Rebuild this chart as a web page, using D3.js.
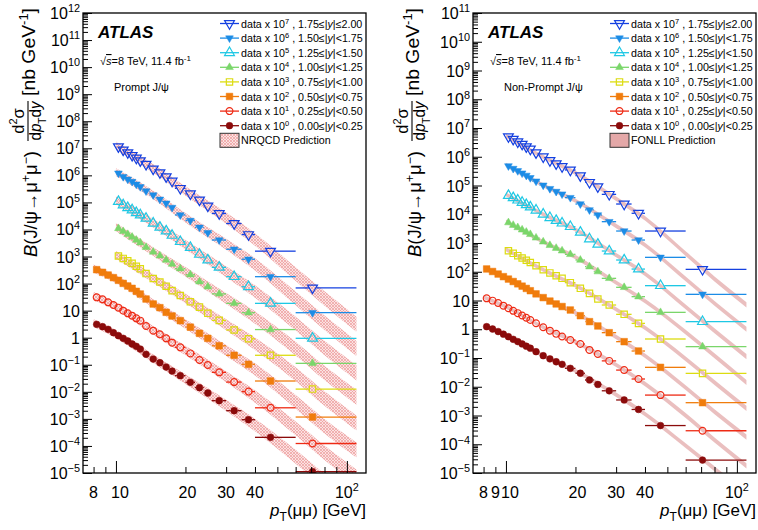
<!DOCTYPE html>
<meta charset="utf-8">
<style>
body { margin: 0; background: #fff; }
svg { font-family: "Liberation Sans", Arial, Helvetica, sans-serif; }
</style>
<body>
<script src="https://d3js.org/d3.v7.min.js"></script>
<script>

// pT bins [GeV] and marker positions (mean pT of bin)
var binLo = [8, 8.5, 9, 9.5, 10, 10.5, 11, 11.5, 12, 12.5, 13, 14, 15, 16, 17, 18, 20, 22, 24, 26, 30, 35, 40, 60];
var binHi = [8.5, 9, 9.5, 10, 10.5, 11, 11.5, 12, 12.5, 13, 14, 15, 16, 17, 18, 20, 22, 24, 26, 30, 35, 40, 60, 110];
var binPt = [8.25, 8.75, 9.25, 9.75, 10.25, 10.75, 11.25, 11.75, 12.25, 12.75, 13.5, 14.5, 15.5, 16.5, 17.5, 19, 21, 23, 25, 28, 32.5, 37.5, 46.7, 71];

// rapidity slices, index 0 = central
var yEdges = ["0.00", "0.25", "0.50", "0.75", "1.00", "1.25", "1.50", "1.75", "2.00"];
var scalePow = [0, 1, 2, 3, 4, 5, 6, 7];
var firstBin = [0, 0, 0, 4, 4, 4, 4, 4];

// prompt J/psi, nb/GeV (unscaled)
var promptY0 = [3.12, 2.56, 2.04, 1.53, 1.19, 0.95, 0.755, 0.585, 0.48, 0.382, 0.243, 0.163, 0.119, 0.0826, 0.0587, 0.0395, 0.0224, 0.0142, 0.00904, 0.00471, 0.00201, 0.000933, 0.000208, 1.12e-5];
var promptY1 = [3.1, 2.62, 2.03, 1.62, 1.29, 0.998, 0.796, 0.652, 0.52, 0.427, 0.270, 0.182, 0.133, 0.0948, 0.0655, 0.044, 0.0263, 0.0150, 0.0098, 0.00525, 0.00229, 0.00102, 0.000257, 1.23e-5];
var promptY2 = [3.27, 2.61, 2.07, 1.66, 1.32, 1.02, 0.815, 0.668, 0.518, 0.412, 0.269, 0.176, 0.129, 0.0867, 0.0634, 0.0427, 0.0245, 0.0145, 0.00948, 0.00501, 0.00224, 0.00104, 0.000251, 1.17e-5];
var promptY3 = [1.047, 0.851, 0.692, 0.562, 0.437, 0.355, 0.234, 0.155, 0.115, 0.0794, 0.055, 0.0363, 0.0214, 0.0135, 0.00794, 0.00437, 0.00193, 0.000912, 0.000224, 1.26e-5];
var promptY4 = [1.096, 0.851, 0.661, 0.525, 0.407, 0.324, 0.219, 0.148, 0.107, 0.0741, 0.0525, 0.0355, 0.0214, 0.0117, 0.00759, 0.00417, 0.00186, 0.000841, 0.0002, 1.13e-5];
var promptY5 = [1.072, 0.804, 0.638, 0.525, 0.417, 0.343, 0.257, 0.170, 0.120, 0.0871, 0.0603, 0.0355, 0.0214, 0.0120, 0.00741, 0.00398, 0.0018, 0.000767, 0.000186, 9.5e-6];
var promptY6 = [1.202, 0.891, 0.716, 0.589, 0.468, 0.380, 0.263, 0.188, 0.130, 0.0933, 0.0646, 0.0343, 0.0214, 0.0120, 0.00759, 0.00407, 0.00186, 0.000794, 0.00018, 8.4e-6];
var promptY7 = [1.148, 0.871, 0.692, 0.550, 0.437, 0.347, 0.257, 0.172, 0.126, 0.0891, 0.0617, 0.0331, 0.0209, 0.0123, 0.00741, 0.00389, 0.00166, 0.000646, 0.000158, 6.9e-6];

// non-prompt J/psi, nb/GeV (unscaled)
var nonPromptY0 = [1.23, 1.02, 0.832, 0.676, 0.550, 0.447, 0.372, 0.309, 0.257, 0.219, 0.166, 0.120, 0.0933, 0.0741, 0.0603, 0.0437, 0.0295, 0.0172, 0.0120, 0.00724, 0.00347, 0.00162, 0.000447, 2.82e-5];
var nonPromptY1 = [1.19, 0.989, 0.813, 0.661, 0.537, 0.437, 0.363, 0.302, 0.251, 0.209, 0.162, 0.117, 0.0891, 0.0692, 0.0562, 0.0423, 0.0307, 0.0191, 0.0138, 0.00794, 0.0038, 0.00186, 0.000513, 2.95e-5];
var nonPromptY2 = [1.25, 1.02, 0.832, 0.676, 0.556, 0.457, 0.380, 0.316, 0.263, 0.219, 0.170, 0.126, 0.0955, 0.0759, 0.0617, 0.0467, 0.0296, 0.0184, 0.0130, 0.0076, 0.0037, 0.00175, 0.000473, 2.79e-5];
var nonPromptY3 = [0.537, 0.437, 0.363, 0.302, 0.251, 0.209, 0.162, 0.117, 0.0912, 0.0724, 0.0589, 0.0417, 0.0265, 0.0177, 0.0113, 0.00697, 0.0033, 0.0016, 0.000458, 2.92e-5];
var nonPromptY4 = [0.513, 0.417, 0.347, 0.288, 0.240, 0.200, 0.151, 0.110, 0.0832, 0.0661, 0.0537, 0.0403, 0.0256, 0.015, 0.0101, 0.0059, 0.00287, 0.00136, 0.000387, 2.48e-5];
var nonPromptY5 = [0.447, 0.372, 0.309, 0.257, 0.214, 0.178, 0.138, 0.100, 0.0759, 0.0603, 0.049, 0.037, 0.0235, 0.0138, 0.00897, 0.00526, 0.00256, 0.00124, 0.000328, 1.84e-5];
var nonPromptY6 = [0.479, 0.389, 0.324, 0.269, 0.224, 0.186, 0.141, 0.102, 0.0776, 0.0617, 0.0501, 0.0378, 0.0227, 0.0141, 0.00942, 0.00552, 0.00261, 0.00127, 0.000317, 1.64e-5];
var nonPromptY7 = [0.501, 0.407, 0.331, 0.275, 0.224, 0.186, 0.138, 0.100, 0.0741, 0.0575, 0.0457, 0.0346, 0.022, 0.0129, 0.0091, 0.00492, 0.00227, 0.00108, 0.000261, 1.21e-5];

// theory predictions (central value at predPt) and band half-width factors
var predPt = [8, 10, 15, 20, 30, 40, 60, 80, 110];
var nrqcdY0 = [3.47, 1.35, 0.138, 0.0295, 0.00316, 5.89e-4, 3.98e-5, 5.01e-6, 6.3e-7];
var nrqcdY1 = [3.47, 1.45, 0.155, 0.0339, 0.00363, 6.76e-4, 4.47e-5, 5.62e-6, 7.08e-7];
var nrqcdY2 = [3.63, 1.48, 0.151, 0.0324, 0.00339, 6.76e-4, 4.27e-5, 5.37e-6, 7.08e-7];
var nrqcdY3 = [null, 1.15, 0.129, 0.0282, 0.00302, 6.03e-4, 4.47e-5, 5.62e-6, 7.08e-7];
var nrqcdY4 = [null, 1.23, 0.126, 0.0275, 0.00282, 5.62e-4, 3.98e-5, 5.01e-6, 6.31e-7];
var nrqcdY5 = [null, 1.20, 0.141, 0.0275, 0.00275, 5.13e-4, 3.31e-5, 4.17e-6, 5.01e-7];
var nrqcdY6 = [null, 1.32, 0.158, 0.0269, 0.00282, 5.13e-4, 2.82e-5, 3.55e-6, 3.98e-7];
var nrqcdY7 = [null, 1.26, 0.148, 0.0263, 0.00263, 4.27e-4, 2.24e-5, 2.82e-6, 3.16e-7];
var nrqcdWidth = [1.4, 1.4, 1.45, 1.5, 1.6, 1.7, 1.8, 1.85, 1.9];

var fonllY0 = [1.35, 0.617, 0.105, 0.0355, 0.00525, 1.12e-3, 8.91e-5, 1.41e-5, 1.78e-6];
var fonllY1 = [1.32, 0.603, 0.102, 0.0363, 0.00575, 1.26e-3, 1.0e-4, 1.41e-5, 1.78e-6];
var fonllY2 = [1.35, 0.617, 0.110, 0.0372, 0.00537, 1.20e-3, 9.33e-5, 1.35e-5, 1.78e-6];
var fonllY3 = [null, 0.603, 0.102, 0.0331, 0.0049, 1.12e-3, 9.33e-5, 1.41e-5, 1.78e-6];
var fonllY4 = [null, 0.562, 0.0955, 0.0324, 0.00417, 9.55e-4, 7.94e-5, 1.20e-5, 1.41e-6];
var fonllY5 = [null, 0.490, 0.0871, 0.0295, 0.0038, 8.51e-4, 6.03e-5, 8.91e-6, 1.12e-6];
var fonllY6 = [null, 0.525, 0.0891, 0.0295, 0.00389, 8.51e-4, 5.62e-5, 7.94e-6, 1.0e-6];
var fonllY7 = [null, 0.537, 0.0851, 0.0275, 0.00347, 7.24e-4, 4.27e-5, 5.62e-6, 7.08e-7];
var fonllWidth = [1.17, 1.17, 1.17, 1.18, 1.19, 1.2, 1.21, 1.22, 1.23];

// axis tick labels
var promptYExp = [12, 11, 10, 9, 8, 7, 6, 5, 4, 3, 2, 1, 0, -1, -2, -3, -4, -5];
var nonPromptYExp = [11, 10, 9, 8, 7, 6, 5, 4, 3, 2, 1, 0, -1, -2, -3, -4, -5];
var promptXLabels = [8, 10, 20, 30, 40, 100];
var nonPromptXLabels = [8, 9, 10, 20, 30, 40, 100];

// styles
var seriesColor = ["#8b0b0b", "#ee2a14", "#f07c0c", "#dcdc10", "#7ad66a", "#1ec8e4", "#1c8ce6", "#1440e0"];
var markerShape = ["circle", "circle", "square", "square", "triangle", "triangle", "triangle", "triangle"];
var markerFilled = [true, false, true, false, true, false, true, false];
var markerDown = [false, false, false, false, false, false, true, true];
var markerSize = [36, 36, 44, 40, 26, 42, 26, 42];

var W = 758, H = 530;
var plotTop = 13, plotBottom = 473;
var xDomain = [7.2, 121];

var svg = d3.select("body").append("svg")
    .attr("width", W)
    .attr("height", H);

var defs = svg.append("defs");
var hatch = defs.append("pattern")
    .attr("id", "hatch")
    .attr("patternUnits", "userSpaceOnUse")
    .attr("width", 3)
    .attr("height", 3);
hatch.append("rect").attr("width", 3).attr("height", 3).attr("fill", "#fbe2e2");
hatch.append("path")
    .attr("d", "M0,3 L3,0 M0,0 L3,3")
    .attr("stroke", "#ec9c9c")
    .attr("stroke-width", 0.7);

function markerPath(i) {
  var t = markerShape[i] == "circle" ? d3.symbolCircle : markerShape[i] == "square" ? d3.symbolSquare : d3.symbolTriangle;
  return d3.symbol().type(t).size(markerSize[i])();
}

function drawMarker(g, i, cx, cy) {
  g.append("path")
      .attr("d", markerPath(i))
      .attr("transform", "translate(" + cx + "," + cy + ")" + (markerDown[i] ? " rotate(180)" : ""))
      .attr("fill", markerFilled[i] ? seriesColor[i] : "none")
      .attr("stroke", seriesColor[i])
      .attr("stroke-width", markerFilled[i] ? 0.5 : 1.2);
}

// text with one superscript
function supText(t, base, sup, fs) {
  t.append("tspan").text(base);
  if (sup != null) {
    t.append("tspan").attr("dy", -0.42 * fs).attr("font-size", fs * 0.68).text(sup);
  }
}

function drawPanel(p) {
  var x = d3.scaleLog().domain(xDomain).range([p.left, p.right]);
  var y = d3.scaleLog().domain([1e-5, p.yMax]).range([plotBottom, plotTop]);

  var g = svg.append("g");

  defs.append("clipPath").attr("id", "clip" + p.id)
    .append("rect")
      .attr("x", p.left).attr("y", plotTop)
      .attr("width", p.right - p.left).attr("height", plotBottom - plotTop);

  var plot = g.append("g").attr("clip-path", "url(#clip" + p.id + ")");

  // prediction bands
  var area = d3.area()
      .x(function(d) { return x(d.pt); })
      .y0(function(d) { return y(d.lo); })
      .y1(function(d) { return y(d.hi); })
      .curve(d3.curveMonotoneX);

  p.pred.forEach(function(vals, i) {
    var s = Math.pow(10, scalePow[i]);
    var pts = [];
    vals.forEach(function(v, k) {
      if (v == null) return;
      pts.push({pt: predPt[k], lo: v * s / p.predWidth[k], hi: v * s * p.predWidth[k]});
    });
    plot.append("path")
        .attr("d", area(pts))
        .attr("fill", p.predFill)
        .attr("fill-opacity", p.predOpacity);
  });

  // data
  p.data.forEach(function(vals, i) {
    var s = Math.pow(10, scalePow[i]);
    var k0 = firstBin[i];
    var r = Math.sqrt(markerSize[i]) / 2 + 0.5;
    vals.forEach(function(v, j) {
      var k = k0 + j;
      var cx = x(binPt[k]), cy = y(v * s);
      var xl = x(binLo[k]), xh = x(binHi[k]);
      if (cx - r > xl) {
        plot.append("line").attr("x1", xl).attr("x2", cx - r).attr("y1", cy).attr("y2", cy)
            .attr("stroke", seriesColor[i]).attr("stroke-width", 1.3);
      }
      if (xh > cx + r) {
        plot.append("line").attr("x1", cx + r).attr("x2", xh).attr("y1", cy).attr("y2", cy)
            .attr("stroke", seriesColor[i]).attr("stroke-width", 1.3);
      }
      drawMarker(plot, i, cx, cy);
    });
  });

  // axes: ticks drawn inward
  var yMajor = p.yExp.map(function(e) { return Math.pow(10, e); });
  var yMinor = [];
  p.yExp.forEach(function(e) {
    for (var m = 2; m <= 9; m++) {
      var v = m * Math.pow(10, e);
      if (v < p.yMax) yMinor.push(v);
    }
  });
  g.append("g")
      .attr("transform", "translate(" + p.left + ",0)")
      .call(d3.axisLeft(y).tickValues(yMajor).tickSize(-9).tickFormat(""));
  g.append("g")
      .attr("transform", "translate(" + p.left + ",0)")
      .call(d3.axisLeft(y).tickValues(yMinor).tickSize(-5).tickFormat(""));

  var xMinor = [8, 9, 20, 30, 40, 50, 60, 70, 80, 90];
  g.append("g")
      .attr("transform", "translate(0," + plotBottom + ")")
      .call(d3.axisBottom(x).tickValues([10, 100]).tickSize(-12).tickFormat(""));
  g.append("g")
      .attr("transform", "translate(0," + plotBottom + ")")
      .call(d3.axisBottom(x).tickValues(xMinor).tickSize(-6).tickFormat(""));
  g.selectAll(".domain").remove();
  g.selectAll(".tick line").attr("stroke", "#000").attr("stroke-width", 1);

  // frame
  g.append("rect")
      .attr("x", p.left).attr("y", plotTop)
      .attr("width", p.right - p.left).attr("height", plotBottom - plotTop)
      .attr("fill", "none").attr("stroke", "#000").attr("stroke-width", 1.3);

  // y tick labels
  p.yExp.forEach(function(e) {
    var t = g.append("text")
        .attr("x", p.left - 3)
        .attr("y", y(Math.pow(10, e)) + 6)
        .attr("text-anchor", "end")
        .attr("font-size", 16);
    if (e == 0) supText(t, "1", null, 16);
    else if (e == 1) supText(t, "10", null, 16);
    else supText(t, "10", String(e).replace("-", "\u2212"), 16);
  });

  // x tick labels (two-digit labels sit a little right of their tick, as in ROOT)
  p.xLabels.forEach(function(v) {
    var t = g.append("text")
        .attr("x", x(v) + (v == 10 ? 4 : v == 20 ? 2 : 0))
        .attr("y", 498)
        .attr("text-anchor", "middle")
        .attr("font-size", 16);
    if (v == 100) supText(t, "10", "2", 16);
    else supText(t, String(v), null, 16);
  });

  // x title
  var xt = g.append("text")
      .attr("x", p.right)
      .attr("y", 516)
      .attr("text-anchor", "end")
      .attr("font-size", 17);
  xt.append("tspan").attr("font-style", "italic").text("p");
  xt.append("tspan").attr("dy", 5).attr("font-size", 12).text("T");
  xt.append("tspan").attr("dy", -5).text("(\u03bc\u03bc) [GeV]");

  // y title, rotated: B(J/psi->mu mu) d2sigma/dpTdy [nb GeV-1]
  var yt = g.append("g")
      .attr("transform", "translate(" + p.titleX + ",257) rotate(-90)")
      .attr("font-size", 18);
  var a = yt.append("text").attr("x", 0).attr("y", 0)
      .attr("textLength", 106).attr("lengthAdjust", "spacingAndGlyphs");
  a.append("tspan").attr("font-style", "italic").text("B");
  a.append("tspan").text("(J/\u03c8\u2192\u03bc");
  a.append("tspan").attr("dy", -7).attr("font-size", 12).text("+");
  a.append("tspan").attr("dy", 7).text("\u03bc");
  a.append("tspan").attr("dy", -7).attr("font-size", 12).text("\u2212");
  a.append("tspan").attr("dy", 7).text(")");
  var fc = 136;
  var num = yt.append("text").attr("x", fc).attr("y", -13).attr("text-anchor", "middle")
      .attr("font-size", 16.5);
  num.append("tspan").text("d");
  num.append("tspan").attr("dy", -7).attr("font-size", 11).text("2");
  num.append("tspan").attr("dy", 7).text("\u03c3");
  yt.append("line")
      .attr("x1", fc - 20).attr("x2", fc + 20)
      .attr("y1", -9).attr("y2", -9)
      .attr("stroke", "#000").attr("stroke-width", 1.1);
  var den = yt.append("text").attr("x", fc).attr("y", 4).attr("text-anchor", "middle")
      .attr("font-size", 16.5)
      .attr("textLength", 39).attr("lengthAdjust", "spacingAndGlyphs");
  den.append("tspan").text("d");
  den.append("tspan").attr("font-style", "italic").text("p");
  den.append("tspan").attr("dy", 5).attr("font-size", 11).text("T");
  den.append("tspan").attr("dy", -5).text("d");
  den.append("tspan").attr("font-style", "italic").text("y");
  var unit = yt.append("text").attr("x", 161).attr("y", -2)
      .attr("textLength", 88).attr("lengthAdjust", "spacingAndGlyphs");
  unit.append("tspan").text("[nb GeV");
  unit.append("tspan").attr("dy", -7).attr("font-size", 12).text("-1");
  unit.append("tspan").attr("dy", 7).text("]");

  // labels
  g.append("text")
      .attr("x", p.left + 15).attr("y", 38)
      .attr("font-size", 17).attr("font-weight", "bold").attr("font-style", "italic")
      .text("ATLAS");
  var sq = g.append("text")
      .attr("x", p.left + 17).attr("y", 65)
      .attr("font-size", 11);
  sq.append("tspan").text("\u221a");
  sq.append("tspan").attr("text-decoration", "overline").attr("font-style", "italic").text("s");
  sq.append("tspan").text("=8 TeV, 11.4 fb");
  sq.append("tspan").attr("dy", -4).attr("font-size", 8).text("-1");
  g.append("text")
      .attr("x", p.left + 31).attr("y", 91)
      .attr("font-size", 11)
      .text(p.kind);

  // legend
  var lx = p.right - 146;
  for (var i = 7; i >= 0; i--) {
    var row = 7 - i;
    var ly = 23.5 + row * 14.6;
    g.append("line").attr("x1", lx).attr("x2", lx + 19).attr("y1", ly).attr("y2", ly)
        .attr("stroke", seriesColor[i]).attr("stroke-width", 1.3);
    drawMarker(g, i, lx + 9.5, ly);
    var t = g.append("text")
        .attr("x", lx + 21).attr("y", ly + 4)
        .attr("font-size", 10.7);
    t.append("tspan").text("data x 10");
    t.append("tspan").attr("dy", -4).attr("font-size", 7.5).text(String(scalePow[i]));
    t.append("tspan").attr("dy", 4).text(" , " + yEdges[i] + "\u2264|");
    t.append("tspan").attr("font-style", "italic").text("y");
    t.append("tspan").text("|" + (i == 7 ? "\u2264" : "<") + yEdges[i + 1]);
  }
  var by = 23.5 + 8 * 14.6;
  g.append("rect")
      .attr("x", lx).attr("y", by - 7).attr("width", 19).attr("height", 14)
      .attr("fill", p.legendFill).attr("stroke", "#333").attr("stroke-width", 1);
  g.append("text")
      .attr("x", lx + 21).attr("y", by + 4)
      .attr("font-size", 10.7)
      .text(p.predName);
}

drawPanel({
  id: 0, left: 83, right: 366, yMax: 1e12,
  yExp: promptYExp, xLabels: promptXLabels,
  data: [promptY0, promptY1, promptY2, promptY3, promptY4, promptY5, promptY6, promptY7],
  pred: [nrqcdY0, nrqcdY1, nrqcdY2, nrqcdY3, nrqcdY4, nrqcdY5, nrqcdY6, nrqcdY7],
  predWidth: nrqcdWidth, predFill: "url(#hatch)", predOpacity: 1, legendFill: "url(#hatch)",
  predName: "NRQCD Prediction", kind: "Prompt J/\u03c8", titleX: 37
});

drawPanel({
  id: 1, left: 473, right: 756, yMax: 1e11,
  yExp: nonPromptYExp, xLabels: nonPromptXLabels,
  data: [nonPromptY0, nonPromptY1, nonPromptY2, nonPromptY3, nonPromptY4, nonPromptY5, nonPromptY6, nonPromptY7],
  pred: [fonllY0, fonllY1, fonllY2, fonllY3, fonllY4, fonllY5, fonllY6, fonllY7],
  predWidth: fonllWidth, predFill: "#dc9494", predOpacity: 0.6, legendFill: "#e4a8a8",
  predName: "FONLL Prediction", kind: "Non-Prompt J/\u03c8", titleX: 421
});

</script>
